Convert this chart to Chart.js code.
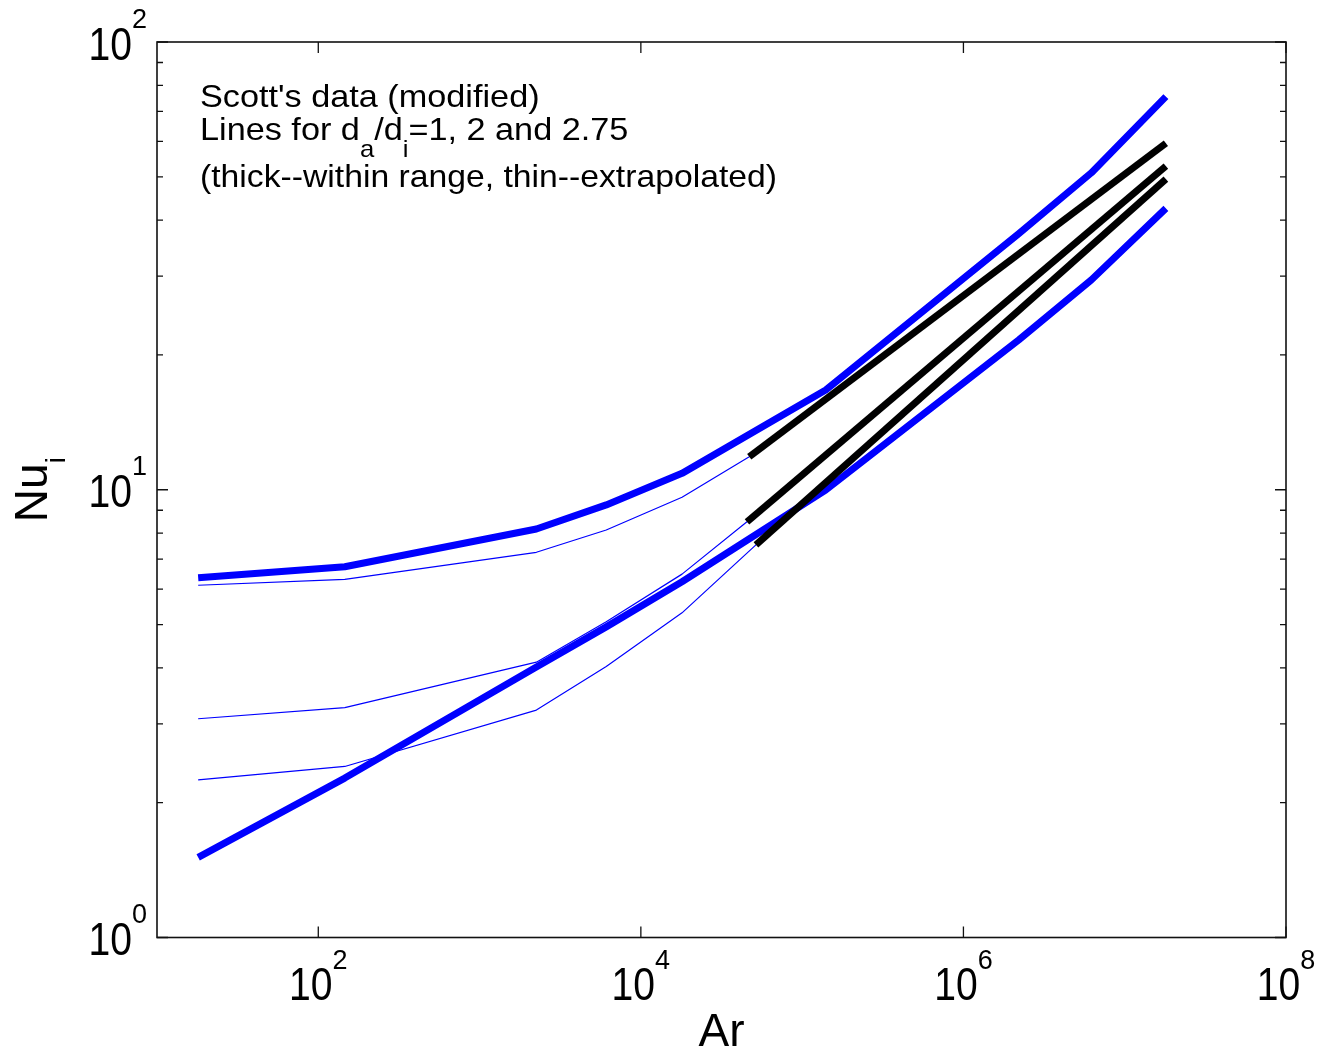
<!DOCTYPE html>
<html>
<head>
<meta charset="utf-8">
<script src="https://cdn.jsdelivr.net/npm/chart.js@4.4.1/dist/chart.umd.min.js"></script>
<style>
  html, body { margin: 0; padding: 0; background: #fff; }
  #wrap { width: 1325px; height: 1049px; position: relative; }
</style>
</head>
<body>
<div id="wrap"><canvas id="nu"></canvas></div>
<script>
// Ar knots shared by the two thick curves
const arKnots = [18, 146, 2250, 6100, 18000, 1.4e5, 2.2e6, 6.2e6, 1.8e7];
const nuThickUpper = [6.36, 6.73, 8.17, 9.25, 10.88, 16.7, 37.3, 51.0, 75.5];
const nuThickLower = [1.51, 2.27, 4.02, 4.94, 6.23, 9.99, 21.6, 29.4, 42.5];

// thin (extrapolated) curves, low-Ar part
const arThin = [18, 146, 2250, 6100, 18000];
const nuThin1 = [6.12, 6.31, 7.25, 8.13, 9.62];
const nuThin2 = [3.08, 3.26, 4.12, 5.07, 6.48];
const nuThin3 = [2.25, 2.41, 3.22, 4.03, 5.31];

// straight fits for d_a/d_i = 1, 2, 2.75 (start / end)
const arFitStart = [4.7e4, 4.55e4, 5.17e4];
const arFitEnd = [1.8e7, 1.8e7, 1.8e7];
const nuFitStart = [11.85, 8.48, 7.53];
const nuFitEnd = [59.4, 52.8, 49.4];

// axis ticks
const xMajorTicks = [1e2, 1e4, 1e6, 1e8];
const xTickExp = ['2', '4', '6', '8'];
const yMajorTicks = [1, 10, 100];
const yTickExp = ['0', '1', '2'];
const yMinorTicks = [2, 3, 4, 5, 6, 7, 8, 9, 20, 30, 40, 50, 60, 70, 80, 90];

const FONT = '"Liberation Sans", Arial, Helvetica, sans-serif';
const BLUE = '#0000ff';

const pts = (xs, ys) => xs.map((x, i) => ({ x: x, y: ys[i] }));
const thinNu = [nuThin1, nuThin2, nuThin3];

const fitSets = [0, 1, 2].map(k => ({
  data: pts([arFitStart[k], arFitEnd[k]], [nuFitStart[k], nuFitEnd[k]]),
  borderColor: '#000', borderWidth: 7
}));
const thinSets = [0, 1, 2].map(k => ({
  data: pts(arThin.concat([arFitStart[k], arFitEnd[k]]),
            thinNu[k].concat([nuFitStart[k], nuFitEnd[k]])),
  borderColor: BLUE, borderWidth: 1.2
}));
const thickSets = [nuThickUpper, nuThickLower].map(ys => ({
  data: pts(arKnots, ys),
  borderColor: BLUE, borderWidth: 7
}));

// draw a run of text pieces: [text, size, dy, xStretch]
function pieceWidth(ctx, p) {
  ctx.font = p[1] + 'px ' + FONT;
  return ctx.measureText(p[0]).width * p[3];
}
function runWidth(ctx, parts) {
  return parts.reduce((s, p) => s + pieceWidth(ctx, p), 0);
}
function drawRun(ctx, parts, x, y) {
  let cx = x;
  for (const p of parts) {
    const w = pieceWidth(ctx, p);
    ctx.save();
    ctx.translate(cx, y + p[2]);
    ctx.scale(p[3], 1);
    ctx.fillText(p[0], 0, 0);
    ctx.restore();
    cx += w;
  }
}

const axesPlugin = {
  id: 'matlabAxes',
  afterDatasetsDraw(chart) {
    const ctx = chart.ctx;
    const a = chart.chartArea;
    const xs = chart.scales.x, ys = chart.scales.y;
    const major = 11, minor = 6;
    ctx.save();
    ctx.strokeStyle = '#111';
    ctx.lineWidth = 1.3;
    ctx.beginPath();
    xMajorTicks.forEach(v => {
      const px = xs.getPixelForValue(v);
      ctx.moveTo(px, a.bottom); ctx.lineTo(px, a.bottom - major);
      ctx.moveTo(px, a.top); ctx.lineTo(px, a.top + major);
    });
    yMajorTicks.forEach(v => {
      const py = ys.getPixelForValue(v);
      ctx.moveTo(a.left, py); ctx.lineTo(a.left + major, py);
      ctx.moveTo(a.right, py); ctx.lineTo(a.right - major, py);
    });
    yMinorTicks.forEach(v => {
      const py = ys.getPixelForValue(v);
      ctx.moveTo(a.left, py); ctx.lineTo(a.left + minor, py);
      ctx.moveTo(a.right, py); ctx.lineTo(a.right - minor, py);
    });
    ctx.stroke();
    ctx.lineWidth = 1.6;
    ctx.strokeRect(a.left, a.top, a.right - a.left, a.bottom - a.top);

    ctx.fillStyle = '#000';
    ctx.textBaseline = 'alphabetic';
    ctx.textAlign = 'left';

    // x tick labels 10^n
    xMajorTicks.forEach((v, i) => {
      const parts = [['10', 46, 0, 0.85], [xTickExp[i], 27, -31, 1]];
      const w = runWidth(ctx, parts);
      drawRun(ctx, parts, xs.getPixelForValue(v) - w / 2, a.bottom + 62.5);
    });
    // y tick labels 10^n
    yMajorTicks.forEach((v, i) => {
      const parts = [['10', 46, 0, 0.85], [yTickExp[i], 27, -32, 1]];
      const w = runWidth(ctx, parts);
      drawRun(ctx, parts, a.left - 10 - w, ys.getPixelForValue(v) + 17.5);
    });

    // axis titles
    const arParts = [['Ar', 46, 0, 1]];
    drawRun(ctx, arParts, (a.left + a.right) / 2 - runWidth(ctx, arParts) / 2, a.bottom + 108.5);
    ctx.save();
    ctx.translate(47, (a.top + a.bottom) / 2);
    ctx.rotate(-Math.PI / 2);
    const nuParts = [['Nu', 46, 0, 1], ['i', 27, 18, 1]];
    drawRun(ctx, nuParts, -runWidth(ctx, nuParts) / 2, 0);
    ctx.restore();

    // note in the upper left corner
    const tx = a.left + 43, s = 1.07;
    drawRun(ctx, [["Scott's data (modified)", 32, 0, s]], tx, a.top + 65);
    drawRun(ctx, [['Lines for d', 32, 0, s], ['a', 24, 17, s], ['/d', 32, 0, s],
                  ['i', 24, 17, s], ['=1, 2 and 2.75', 32, 0, s]], tx, a.top + 98);
    drawRun(ctx, [['(thick--within range, thin--extrapolated)', 31.5, 0, s]], tx, a.top + 145);
    ctx.restore();
  }
};

new Chart(document.getElementById('nu'), {
  type: 'line',
  data: { datasets: fitSets.concat(thinSets, thickSets) },
  options: {
    responsive: true,
    maintainAspectRatio: false,
    animation: false,
    events: [],
    layout: { padding: { left: 157, right: 39, top: 42, bottom: 111.5 } },
    elements: {
      line: { tension: 0, fill: false, borderCapStyle: 'butt', borderJoinStyle: 'round' },
      point: { radius: 0 }
    },
    plugins: { legend: { display: false }, tooltip: { enabled: false } },
    scales: {
      x: { type: 'logarithmic', min: 10, max: 1e8, display: false },
      y: { type: 'logarithmic', min: 1, max: 100, display: false }
    }
  },
  plugins: [axesPlugin]
});
</script>
</body>
</html>
